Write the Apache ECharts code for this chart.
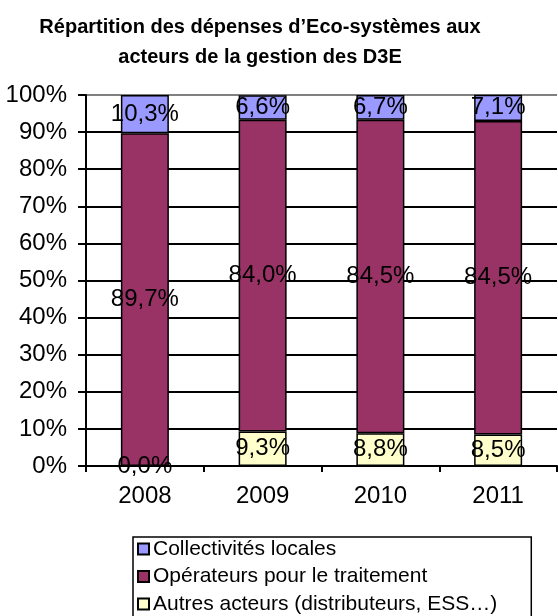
<!DOCTYPE html>
<html>
<head>
<meta charset="utf-8">
<style>
  html, body { margin: 0; padding: 0; background: #ffffff; }
  #chart { width: 558px; height: 616px; }
</style>
<script src="https://cdn.jsdelivr.net/npm/echarts@6/dist/echarts.min.js"></script>
</head>
<body>
<div id="chart"></div>
<script>
// Years on the category axis
const years = ['2008', '2009', '2010', '2011'];

// Share of spending per group of actors (%)
const collectivites = [10.3, 6.6, 6.7, 7.1];
const operateurs = [89.7, 84.0, 84.5, 84.5];
const autres = [0.0, 9.3, 8.8, 8.5];

// Legend / series names
const nameCollectivites = 'Collectivités locales';
const nameOperateurs = 'Opérateurs pour le traitement';
const nameAutres = 'Autres acteurs (distributeurs, ESS…)';

// Percent tick values for the value axis
const yTicks = [0, 10, 20, 30, 40, 50, 60, 70, 80, 90, 100];

const FONT = '"Liberation Sans", Arial, sans-serif';

function pct(v) {
  return v.toFixed(1).replace('.', ',') + '%';
}

function barSeries(name, data, color) {
  return {
    name: name,
    type: 'bar',
    stack: 'total',
    data: data,
    barWidth: 48,
    itemStyle: { color: color, borderColor: '#000000', borderWidth: 1.5 },
    label: {
      show: true,
      position: 'inside',
      color: '#000000',
      fontFamily: FONT,
      fontSize: 24,
      formatter: p => pct(p.value)
    },
    emphasis: { disabled: true }
  };
}

// Grid lines: black, except the gray top line at 100 %
const splitColors = yTicks.map(v => (v === 100 ? '#808080' : '#000000'));

const chart = echarts.init(document.getElementById('chart'), null, { renderer: 'canvas' });
chart.setOption({
  backgroundColor: '#ffffff',
  animation: false,
  textStyle: { fontFamily: FONT },
  title: {
    text: 'Répartition des dépenses d’Eco-systèmes aux\nacteurs de la gestion des D3E',
    left: 260,
    top: 12,
    textAlign: 'center',
    padding: 0,
    textStyle: {
      fontFamily: FONT,
      fontSize: 20,
      fontWeight: 'bold',
      lineHeight: 30,
      color: '#000000'
    }
  },
  legend: {
    orient: 'vertical',
    left: 133,
    top: 537,
    height: 120,
    data: [nameCollectivites, nameOperateurs, nameAutres],
    icon: 'rect',
    itemWidth: 11,
    itemHeight: 11,
    itemGap: 5.5,
    padding: [1, 34, 6, 4],
    borderColor: '#000000',
    borderWidth: 1.5,
    selectedMode: false,
    textStyle: { fontFamily: FONT, fontSize: 21, lineHeight: 22, color: '#000000', padding: [0, 0, 0, -1] }
  },
  grid: { left: 86, right: 1, top: 95, bottom: 150, containLabel: false },
  xAxis: {
    type: 'category',
    data: years,
    axisLine: { show: true, lineStyle: { color: '#000000', width: 2 } },
    axisTick: { show: true, length: 6, lineStyle: { color: '#000000', width: 2 } },
    axisLabel: { color: '#000000', fontFamily: FONT, fontSize: 24, margin: 18 }
  },
  yAxis: {
    type: 'value',
    min: 0,
    max: 100,
    interval: 10,
    axisLine: { show: true, lineStyle: { color: '#000000', width: 2 } },
    axisTick: { show: true, length: 8, lineStyle: { color: '#000000', width: 2 } },
    axisLabel: { color: '#000000', fontFamily: FONT, fontSize: 24, margin: 19, formatter: '{value}%' },
    splitLine: { show: true, lineStyle: { color: splitColors, width: 2 } }
  },
  series: [
    barSeries(nameAutres, autres, '#FFFFCC'),
    barSeries(nameOperateurs, operateurs, '#993366'),
    barSeries(nameCollectivites, collectivites, '#9999FF')
  ]
});
</script>
</body>
</html>
